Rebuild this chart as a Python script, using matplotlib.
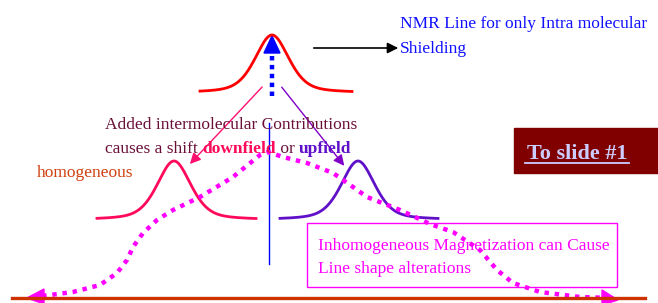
import matplotlib.pyplot as plt
import numpy as np
from matplotlib.patches import Rectangle, Polygon

# peaks: centre x, top y, base y, left end, right end, colour  (pixel coords)
peak_names = ['intra', 'downfield', 'upfield']
peak_center = [272, 174, 358]
peak_top = [35, 161, 161]
peak_base = [93, 220, 220]
peak_left = [200, 97, 280]
peak_right = [352, 256, 438]
peak_colors = ['#FF0000', '#FF0A5A', '#6010C8']
peak_fwhm = 40

# magenta dotted envelope (inhomogeneous line)
env_x = [32, 50, 73, 100, 117, 127, 133, 143, 157, 173, 200, 233, 260, 268,
         283, 307, 333, 353, 367, 400, 430, 453, 480, 497, 513, 540, 580, 612]
env_y = [297, 295, 292, 285, 273, 260, 247, 233, 220, 210, 197, 177, 155, 152,
         157, 163, 173, 187, 197, 210, 224, 232, 250, 270, 283, 292, 297, 298]

nmr_lines = ['NMR Line for only Intra molecular', 'Shielding']
inhom_lines = ['Inhomogeneous Magnetization can Cause', 'Line shape alterations']

serif = ['Liberation Serif', 'DejaVu Serif']
fs = 12.5

fig = plt.figure(figsize=(6.58, 3.03), dpi=100)
ax = fig.add_axes([0, 0, 1, 1])
ax.set_xlim(0, 658)
ax.set_ylim(303, 0)
ax.axis('off')


def lineshape(c, top, base, x0, x1):
    x = np.linspace(x0, x1, 200)
    hw = peak_fwhm / 2
    g = np.exp(-np.log(2) * ((x - c) / hw) ** 2)
    l = 1 / (1 + ((x - c) / hw) ** 2)
    v = 0.55 * g + 0.45 * l
    return x, base - (base - top) * v


for i in range(3):
    x, y = lineshape(peak_center[i], peak_top[i], peak_base[i], peak_left[i], peak_right[i])
    ax.plot(x, y, color=peak_colors[i], lw=2)

# blue dotted arrow inside main peak
ax.plot([272, 272], [56, 99], color='#0000FF', lw=3.2, ls=(0, (1, 1)))
ax.add_patch(Polygon([[272, 36], [264, 53], [280, 53]], color='#0000FF'))

# arrows to shifted lines
ax.annotate('', xy=(188, 166), xytext=(264, 85),
            arrowprops=dict(arrowstyle='-|>', color='#FF1070', lw=1, mutation_scale=16))
ax.annotate('', xy=(346, 168), xytext=(280, 85),
            arrowprops=dict(arrowstyle='-|>', color='#8000C8', lw=1, mutation_scale=16))
# black arrow to label
ax.annotate('', xy=(401, 48), xytext=(311, 48),
            arrowprops=dict(arrowstyle='-|>', color='black', lw=1.2, mutation_scale=16))

# thin blue vertical line
ax.plot([269, 269], [123, 264], color='#0000FF', lw=1)

# magenta dotted envelope
ax.plot(env_x, env_y, color='#FF00FF', lw=3.2, ls=(0, (1, 1.3)))
ax.add_patch(Polygon([[27, 298], [44, 289], [44, 304]], color='#FF00FF'))
ax.add_patch(Polygon([[618, 300], [602, 290], [602, 305]], color='#FF00FF'))

# baseline
ax.plot([12, 645], [298, 298], color='#CC3300', lw=2.4)

# texts
for k, s in enumerate(nmr_lines):
    ax.text(400, 28 + 25 * k, s, color='#1010FF', family=serif, fontsize=fs, va='baseline')
ax.text(105, 129, 'Added intermolecular Contributions', color='#6A1038',
        family=serif, fontsize=fs, va='baseline')
ax.text(37, 177, 'homogeneous', color='#D04010', family=serif, fontsize=fs, va='baseline')

pieces = [('causes a shift ', '#6A1038', 'normal'), ('downfield', '#FF0A5A', 'bold'),
          (' or ', '#6A1038', 'normal'), ('upfield', '#6010C8', 'bold')]
fig.canvas.draw()
r = fig.canvas.get_renderer()
xp = 105
for s, c, w in pieces:
    t = ax.text(xp, 153, s, color=c, family=serif, fontsize=fs, fontweight=w, va='baseline')
    bb = t.get_window_extent(r)
    xp += bb.width * 658 / fig.bbox.width

# magenta box
ax.add_patch(Rectangle((307, 223), 310, 64, fill=False, ec='#FF00FF', lw=1))
for k, s in enumerate(inhom_lines):
    ax.text(318, 250 + 23 * k, s, color='#FF00FF', family=serif, fontsize=fs, va='baseline')

# "To slide #1" button
ax.add_patch(Rectangle((514, 128), 144, 45, color='#800000'))
ax.text(577, 159, 'To slide #1', color='#CCCCFF', family=serif, fontsize=16,
        fontweight='bold', ha='center', va='baseline')
ax.plot([525, 629], [162.5, 162.5], color='#CCCCFF', lw=1.3)

fig.savefig('out.png', dpi=100)
